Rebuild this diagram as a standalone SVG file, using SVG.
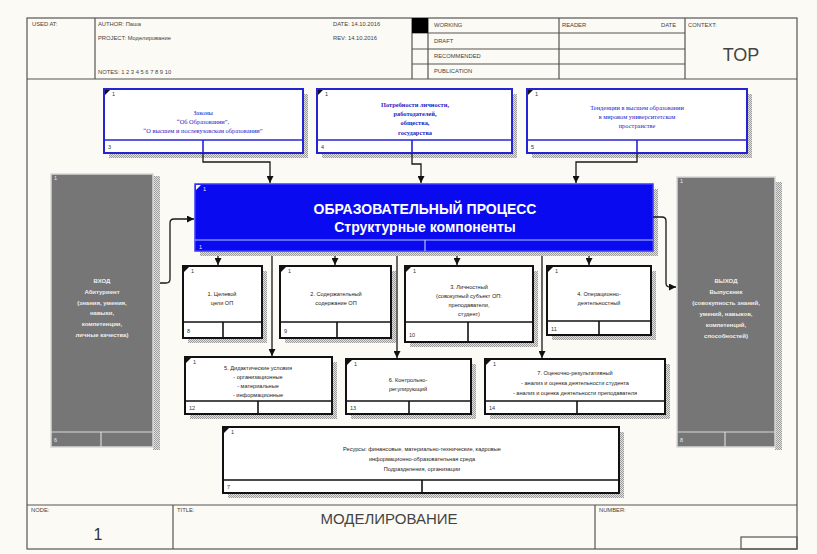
<svg xmlns="http://www.w3.org/2000/svg" width="817" height="554" viewBox="0 0 817 554">
  <defs>
    <pattern id="dots" width="2" height="2" patternUnits="userSpaceOnUse">
      <rect width="2" height="2" fill="#e4e2de"/>
      <rect width="1" height="1" fill="#9c9c9c"/>
      <rect x="1" y="1" width="1" height="1" fill="#9c9c9c"/>
    </pattern>
    <marker id="arr" viewBox="0 0 8 8" markerWidth="7" markerHeight="7" refX="8" refY="4" orient="auto" markerUnits="userSpaceOnUse">
      <path d="M0,0 L8,4 L0,8 z" fill="#111"/>
    </marker>
    <path id="tag" d="M0,0 h5 L0,5 z"/>
  </defs>
  <style>
    .frame { fill: none; stroke: #555; stroke-width: 1.2; }
    .hdr { font-family: "Liberation Sans", Arial, sans-serif; font-size: 5.8px; fill: #444; }
    .shadow { fill: url(#dots); }
    .ctl { fill: #fff; stroke: #2424d6; stroke-width: 2; }
    .ctl-line { stroke: #2424d6; stroke-width: 1.6; fill: none; }
    .ctl-txt { font-family: "Liberation Serif", "Times New Roman", serif; font-size: 6.4px; fill: #2424c8; text-anchor: middle; }
    .main { fill: #0a0af0; stroke: #3a3aff; stroke-width: 1.5; }
    .main-line { stroke: #b8c4ff; stroke-width: 1.2; fill: none; }
    .main-txt { font-family: "Liberation Sans", Arial, sans-serif; font-size: 14px; font-weight: bold; fill: #fff; text-anchor: middle; }
    .box { fill: #fff; stroke: #111; stroke-width: 2; }
    .box-line { stroke: #111; stroke-width: 1.6; fill: none; }
    .box-txt { font-family: "Liberation Sans", Arial, sans-serif; font-size: 5.6px; fill: #222; text-anchor: middle; }
    .gray { fill: #767676; stroke: #d8d8d8; stroke-width: 1.5; }
    .gray-line { stroke: #d8d8d8; stroke-width: 1.2; fill: none; }
    .gray-txt { font-family: "Liberation Sans", Arial, sans-serif; font-size: 6px; font-weight: bold; fill: #eeeeee; text-anchor: middle; }
    .num { font-family: "Liberation Sans", Arial, sans-serif; font-size: 5.5px; fill: #333; }
    .num-w { font-family: "Liberation Sans", Arial, sans-serif; font-size: 5.5px; fill: #e8e8ff; }
    .tagmark { fill: #111; }
    .conn { fill: none; stroke: #1a1a1a; stroke-width: 1.3; marker-end: url(#arr); }
  </style>

  <!-- page -->
  <rect width="817" height="554" fill="#fcfaf4"/>
  <rect x="27" y="18" width="770" height="531" fill="#fcf8f0" class="frame"/>

  <!-- header -->
  <g id="header">
    <line x1="27" y1="79" x2="797" y2="79" class="frame"/>
    <line x1="95" y1="18" x2="95" y2="79" class="frame"/>
    <line x1="412" y1="18" x2="412" y2="79" class="frame"/>
    <line x1="428" y1="18" x2="428" y2="79" class="frame"/>
    <line x1="559" y1="18" x2="559" y2="79" class="frame"/>
    <line x1="685" y1="18" x2="685" y2="79" class="frame"/>
    <line x1="412" y1="33" x2="685" y2="33" class="frame"/>
    <line x1="412" y1="49" x2="685" y2="49" class="frame"/>
    <line x1="412" y1="64" x2="685" y2="64" class="frame"/>
    <rect x="412" y="18" width="16" height="15" fill="#000"/>
    <text x="32" y="26" class="hdr">USED AT:</text>
    <text x="98" y="26" class="hdr">AUTHOR:  Паша</text>
    <text x="98" y="40" class="hdr">PROJECT:  Моделирование</text>
    <text x="98" y="74" class="hdr">NOTES:  1  2  3  4  5  6  7  8  9  10</text>
    <text x="333" y="26" class="hdr">DATE:   14.10.2016</text>
    <text x="333" y="40" class="hdr">REV:    14.10.2016</text>
    <text x="434" y="27" class="hdr">WORKING</text>
    <text x="434" y="43" class="hdr">DRAFT</text>
    <text x="434" y="58" class="hdr">RECOMMENDED</text>
    <text x="434" y="73" class="hdr">PUBLICATION</text>
    <text x="562" y="27" class="hdr">READER</text>
    <text x="661" y="27" class="hdr">DATE</text>
    <text x="688" y="27" class="hdr">CONTEXT:</text>
    <text x="741" y="61" font-family="Liberation Sans, Arial, sans-serif" font-size="18" fill="#444" text-anchor="middle">TOP</text>
  </g>

  <!-- footer -->
  <g id="footer">
    <line x1="27" y1="505" x2="797" y2="505" class="frame"/>
    <line x1="173" y1="505" x2="173" y2="549" class="frame"/>
    <line x1="595" y1="505" x2="595" y2="549" class="frame"/>
    <rect x="741" y="537" width="56" height="12" class="frame"/>
    <text x="31" y="512" class="hdr">NODE:</text>
    <text x="98" y="540" font-family="Liberation Sans, Arial, sans-serif" font-size="16" fill="#333" text-anchor="middle">1</text>
    <text x="177" y="512" class="hdr">TITLE:</text>
    <text x="389" y="524" font-family="Liberation Sans, Arial, sans-serif" font-size="15" fill="#444" text-anchor="middle">МОДЕЛИРОВАНИЕ</text>
    <text x="599" y="512" class="hdr">NUMBER:</text>
  </g>

  <!-- shadows -->
  <g id="shadows">
    <rect x="109" y="94" width="199" height="64" class="shadow"/>
    <rect x="322" y="94" width="195" height="64" class="shadow"/>
    <rect x="532" y="94" width="220" height="64" class="shadow"/>
    <rect x="200" y="189" width="458" height="67" class="shadow"/>
    <rect x="153" y="176" width="7" height="274" class="shadow"/>
    <rect x="775" y="182" width="7" height="268" class="shadow"/>
    <rect x="188" y="271" width="79" height="72" class="shadow"/>
    <rect x="285" y="271" width="111" height="72" class="shadow"/>
    <rect x="410" y="271" width="128" height="76" class="shadow"/>
    <rect x="552" y="271" width="104" height="69" class="shadow"/>
    <rect x="190" y="362" width="147" height="57" class="shadow"/>
    <rect x="351" y="364" width="125" height="55" class="shadow"/>
    <rect x="490" y="364" width="180" height="55" class="shadow"/>
    <rect x="228" y="432" width="396" height="66" class="shadow"/>
  </g>

  <!-- controls -->
  <g id="node-laws">
    <rect x="104" y="89" width="199" height="64" class="ctl"/>
    <line x1="104" y1="140" x2="303" y2="140" class="ctl-line"/>
    <line x1="203" y1="140" x2="203" y2="153" class="ctl-line"/>
    <use href="#tag" x="105" y="90" class="tagmark"/>
    <text x="112" y="96" class="num">1</text>
    <text x="108" y="149" class="num">3</text>
    <text x="203" y="115" class="ctl-txt">Законы</text>
    <text x="203" y="124" class="ctl-txt">“Об Образовании”,</text>
    <text x="203" y="133" class="ctl-txt">“О высшем и послевузовском образовании”</text>
  </g>
  <g id="node-needs">
    <rect x="317" y="89" width="195" height="64" class="ctl"/>
    <line x1="317" y1="140" x2="512" y2="140" class="ctl-line"/>
    <line x1="412" y1="140" x2="412" y2="153" class="ctl-line"/>
    <use href="#tag" x="318" y="90" class="tagmark"/>
    <text x="325" y="96" class="num">1</text>
    <text x="321" y="149" class="num">4</text>
    <text x="415" y="107" class="ctl-txt" font-weight="bold">Потребности личности,</text>
    <text x="415" y="116" class="ctl-txt" font-weight="bold">работодателей,</text>
    <text x="415" y="125" class="ctl-txt" font-weight="bold">общества,</text>
    <text x="415" y="135" class="ctl-txt" font-weight="bold">государства</text>
  </g>
  <g id="node-trends">
    <rect x="527" y="89" width="220" height="64" class="ctl"/>
    <line x1="527" y1="140" x2="747" y2="140" class="ctl-line"/>
    <line x1="637" y1="140" x2="637" y2="153" class="ctl-line"/>
    <use href="#tag" x="528" y="90" class="tagmark"/>
    <text x="535" y="96" class="num">1</text>
    <text x="531" y="149" class="num">5</text>
    <text x="637" y="110" class="ctl-txt">Тенденции в высшем образовании</text>
    <text x="637" y="119" class="ctl-txt">в мировом университетском</text>
    <text x="637" y="128" class="ctl-txt">пространстве</text>
  </g>

  <!-- main process -->
  <g id="node-process">
    <rect x="195" y="184" width="458" height="67" class="main"/>
    <line x1="195" y1="240" x2="653" y2="240" class="main-line"/>
    <line x1="425" y1="240" x2="425" y2="251" class="main-line"/>
    <use href="#tag" x="196" y="185" fill="#fff"/>
    <text x="203" y="191" class="num-w">1</text>
    <text x="199" y="249" class="num-w">1</text>
    <text x="425" y="214" class="main-txt">ОБРАЗОВАТЕЛЬНЫЙ ПРОЦЕСС</text>
    <text x="425" y="232" class="main-txt">Структурные компоненты</text>
  </g>

  <!-- input / output -->
  <g id="node-input">
    <rect x="51" y="174" width="102" height="273" class="gray"/>
    <line x1="51" y1="432" x2="153" y2="432" class="gray-line"/>
    <line x1="101" y1="432" x2="101" y2="447" class="gray-line"/>
    <text x="54" y="180" class="num-w">1</text>
    <text x="54" y="442" class="num-w">6</text>
    <text x="102" y="283" class="gray-txt">ВХОД</text>
    <text x="102" y="294" class="gray-txt">Абитуриент</text>
    <text x="102" y="305" class="gray-txt">(знания, умения,</text>
    <text x="102" y="315" class="gray-txt">навыки,</text>
    <text x="102" y="326" class="gray-txt">компетенции,</text>
    <text x="102" y="337" class="gray-txt">личные качества)</text>
  </g>
  <g id="node-output">
    <rect x="677" y="177" width="98" height="270" class="gray"/>
    <line x1="677" y1="432" x2="775" y2="432" class="gray-line"/>
    <line x1="725" y1="432" x2="725" y2="447" class="gray-line"/>
    <text x="680" y="183" class="num-w">1</text>
    <text x="680" y="442" class="num-w">8</text>
    <text x="726" y="283" class="gray-txt">ВЫХОД</text>
    <text x="726" y="294" class="gray-txt">Выпускник</text>
    <text x="726" y="305" class="gray-txt">(совокупность знаний,</text>
    <text x="726" y="316" class="gray-txt">умений, навыков,</text>
    <text x="726" y="327" class="gray-txt">компетенций,</text>
    <text x="726" y="338" class="gray-txt">способностей)</text>
  </g>

  <!-- components -->
  <g id="node-1">
    <rect x="183" y="266" width="79" height="72" class="box"/>
    <line x1="183" y1="322" x2="262" y2="322" class="box-line"/>
    <line x1="223" y1="322" x2="223" y2="338" class="box-line"/>
    <use href="#tag" x="184" y="267" class="tagmark"/>
    <text x="191" y="273" class="num">1</text>
    <text x="187" y="333" class="num">8</text>
    <text x="222" y="296" class="box-txt">1. Целевой</text>
    <text x="222" y="305" class="box-txt">цели ОП</text>
  </g>
  <g id="node-2">
    <rect x="280" y="266" width="111" height="72" class="box"/>
    <line x1="280" y1="322" x2="391" y2="322" class="box-line"/>
    <line x1="337" y1="322" x2="337" y2="338" class="box-line"/>
    <use href="#tag" x="281" y="267" class="tagmark"/>
    <text x="288" y="273" class="num">1</text>
    <text x="284" y="333" class="num">9</text>
    <text x="336" y="296" class="box-txt">2. Содержательный</text>
    <text x="336" y="305" class="box-txt">содержание ОП</text>
  </g>
  <g id="node-3">
    <rect x="405" y="266" width="128" height="76" class="box"/>
    <line x1="405" y1="322" x2="533" y2="322" class="box-line"/>
    <line x1="468" y1="322" x2="468" y2="342" class="box-line"/>
    <use href="#tag" x="406" y="267" class="tagmark"/>
    <text x="413" y="273" class="num">1</text>
    <text x="409" y="337" class="num">10</text>
    <text x="469" y="289" class="box-txt">3. Личностный</text>
    <text x="469" y="298" class="box-txt">(совокупный субъект ОП:</text>
    <text x="469" y="307" class="box-txt">преподаватели,</text>
    <text x="469" y="316" class="box-txt">студент)</text>
  </g>
  <g id="node-4">
    <rect x="547" y="266" width="104" height="69" class="box"/>
    <line x1="547" y1="321" x2="651" y2="321" class="box-line"/>
    <line x1="599" y1="321" x2="599" y2="335" class="box-line"/>
    <use href="#tag" x="548" y="267" class="tagmark"/>
    <text x="555" y="273" class="num">1</text>
    <text x="551" y="331" class="num">11</text>
    <text x="599" y="296" class="box-txt">4. Операционно-</text>
    <text x="599" y="305" class="box-txt">деятельностный</text>
  </g>
  <g id="node-5">
    <rect x="185" y="357" width="147" height="57" class="box"/>
    <line x1="185" y1="401" x2="332" y2="401" class="box-line"/>
    <line x1="258" y1="401" x2="258" y2="414" class="box-line"/>
    <use href="#tag" x="186" y="358" class="tagmark"/>
    <text x="193" y="364" class="num">1</text>
    <text x="189" y="410" class="num">12</text>
    <text x="258" y="370" class="box-txt">5. Дидактические условия</text>
    <text x="258" y="379" class="box-txt">- организационные</text>
    <text x="258" y="388" class="box-txt">- материальные</text>
    <text x="258" y="397" class="box-txt">- информационные</text>
  </g>
  <g id="node-6">
    <rect x="346" y="359" width="125" height="55" class="box"/>
    <line x1="346" y1="401" x2="471" y2="401" class="box-line"/>
    <line x1="409" y1="401" x2="409" y2="414" class="box-line"/>
    <use href="#tag" x="347" y="360" class="tagmark"/>
    <text x="354" y="366" class="num">1</text>
    <text x="350" y="410" class="num">13</text>
    <text x="408" y="382" class="box-txt">6. Контрольно-</text>
    <text x="408" y="391" class="box-txt">регулирующий</text>
  </g>
  <g id="node-7">
    <rect x="485" y="359" width="180" height="55" class="box"/>
    <line x1="485" y1="401" x2="665" y2="401" class="box-line"/>
    <line x1="577" y1="401" x2="577" y2="414" class="box-line"/>
    <use href="#tag" x="486" y="360" class="tagmark"/>
    <text x="493" y="366" class="num">1</text>
    <text x="489" y="410" class="num">14</text>
    <text x="575" y="375" class="box-txt">7. Оценочно-результативный</text>
    <text x="575" y="385" class="box-txt">- анализ и оценка деятельности студента</text>
    <text x="575" y="395" class="box-txt">- анализ и оценка деятельности преподавателя</text>
  </g>
  <g id="node-resources">
    <rect x="223" y="427" width="396" height="66" class="box"/>
    <line x1="223" y1="480" x2="619" y2="480" class="box-line"/>
    <line x1="422" y1="480" x2="422" y2="493" class="box-line"/>
    <use href="#tag" x="224" y="428" class="tagmark"/>
    <text x="231" y="434" class="num">1</text>
    <text x="227" y="489" class="num">7</text>
    <text x="422" y="451" class="box-txt">Ресурсы: финансовые, материально-технические, кадровые</text>
    <text x="422" y="461" class="box-txt">информационно-образовательная среда</text>
    <text x="422" y="471" class="box-txt">Подразделения, организации</text>
  </g>

  <!-- connectors -->
  <g id="connectors">
    <path d="M203,153 V162 H270 V183" class="conn"/>
    <path d="M412,153 V164 H421 V183" class="conn"/>
    <path d="M637,153 V162 H576 V183" class="conn"/>
    <path d="M160,283 H166 Q170,283 170,279 V223 Q170,219 174,219 H194" class="conn"/>
    <path d="M653,217 H662 Q666,217 666,221 V283 Q666,287 670,287 H676" class="conn"/>
    <path d="M218,256 V265" class="conn"/>
    <path d="M335,256 V265" class="conn"/>
    <path d="M457,256 V265" class="conn"/>
    <path d="M589,256 V265" class="conn"/>
    <path d="M272,256 V356" class="conn"/>
    <path d="M397,256 V358" class="conn"/>
    <path d="M542,256 V358" class="conn"/>
  </g>
</svg>
